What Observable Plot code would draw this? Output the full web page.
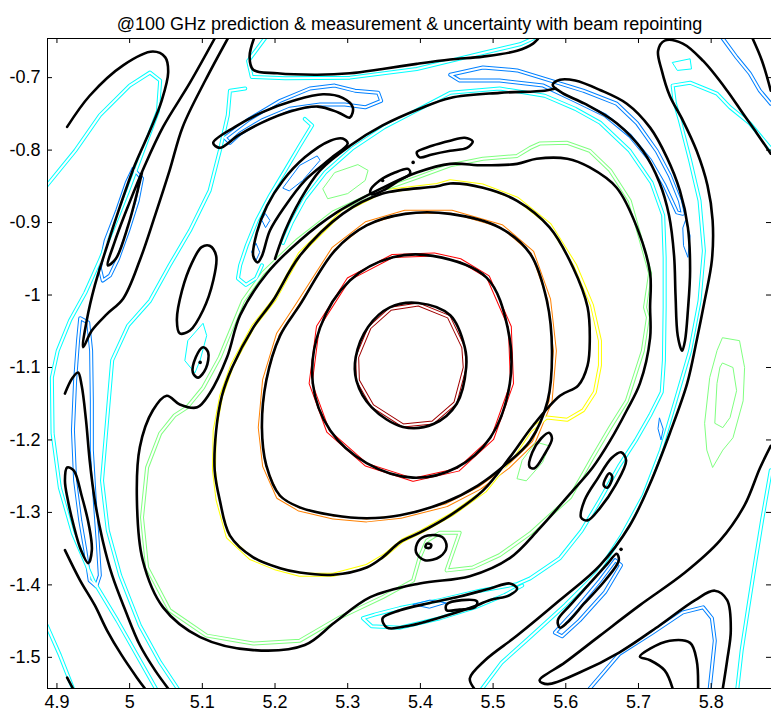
<!DOCTYPE html>
<html><head><meta charset="utf-8">
<script src="https://cdn.jsdelivr.net/npm/d3@7"></script>
<script src="https://cdn.jsdelivr.net/npm/@observablehq/plot@0.6"></script>
<style>body{margin:0;background:#fff;overflow:hidden}</style>
</head><body><div id="chart"></div>
<script>
const title = "@100 GHz prediction & measurement & uncertainty with beam repointing";
const xTicks = [4.9,5,5.1,5.2,5.3,5.4,5.5,5.6,5.7,5.8];
const yTicks = [-0.7,-0.8,-0.9,-1,-1.1,-1.2,-1.3,-1.4,-1.5];
const xDomain = [4.887,5.883];
const yDomain = [-1.543,-0.646];

// ---------- predicted (black) contours ----------
const K1 = [[5.397,-1.011],[5.441,-1.028],[5.461,-1.072],[5.463,-1.100],[5.450,-1.150],[5.418,-1.178],[5.376,-1.182],[5.333,-1.155],[5.312,-1.118],[5.311,-1.086],[5.328,-1.044],[5.358,-1.017]];
const K2 = [[5.417,-0.946],[5.491,-0.976],[5.520,-1.045],[5.523,-1.122],[5.496,-1.197],[5.450,-1.238],[5.390,-1.252],[5.326,-1.232],[5.276,-1.187],[5.252,-1.122],[5.262,-1.045],[5.303,-0.980],[5.362,-0.948]];
const K3 = [[5.441,-0.888],[5.509,-0.907],[5.551,-0.943],[5.574,-1.008],[5.581,-1.077],[5.575,-1.146],[5.551,-1.201],[5.516,-1.235],[5.479,-1.263],[5.434,-1.286],[5.372,-1.304],[5.326,-1.308],[5.280,-1.304],[5.234,-1.293],[5.207,-1.277],[5.188,-1.235],[5.182,-1.183],[5.188,-1.118],[5.207,-1.056],[5.234,-1.014],[5.282,-0.939],[5.326,-0.904],[5.379,-0.888]];
const K4 = [[5.441,-0.846],[5.486,-0.852],[5.533,-0.870],[5.578,-0.907],[5.610,-0.962],[5.630,-1.017],[5.633,-1.063],[5.630,-1.097],[5.617,-1.125],[5.592,-1.139],[5.555,-1.180],[5.523,-1.224],[5.486,-1.270],[5.441,-1.304],[5.399,-1.328],[5.372,-1.341],[5.348,-1.362],[5.326,-1.376],[5.280,-1.386],[5.234,-1.383],[5.207,-1.377],[5.170,-1.362],[5.138,-1.332],[5.124,-1.283],[5.117,-1.242],[5.119,-1.187],[5.127,-1.139],[5.141,-1.100],[5.170,-1.045],[5.197,-1.008],[5.234,-0.946],[5.293,-0.888],[5.348,-0.860],[5.423,-0.850]];
const K5 = [[5.441,-0.819],[5.486,-0.821],[5.533,-0.819],[5.560,-0.812],[5.602,-0.812],[5.633,-0.824],[5.670,-0.852],[5.698,-0.907],[5.716,-0.970],[5.716,-1.017],[5.716,-1.059],[5.702,-1.122],[5.684,-1.159],[5.661,-1.201],[5.637,-1.238],[5.606,-1.274],[5.564,-1.322],[5.523,-1.363],[5.468,-1.388],[5.399,-1.398],[5.331,-1.417],[5.282,-1.452],[5.241,-1.483],[5.170,-1.490],[5.097,-1.472],[5.046,-1.431],[5.018,-1.366],[5.010,-1.283],[5.014,-1.210],[5.032,-1.159],[5.051,-1.139],[5.069,-1.151],[5.093,-1.155],[5.110,-1.136],[5.134,-1.086],[5.152,-1.028],[5.189,-0.970],[5.234,-0.925],[5.285,-0.886],[5.348,-0.852],[5.395,-0.831]];
const E1 = [[5.110,-0.932],[5.119,-0.946],[5.115,-0.980],[5.101,-1.021],[5.083,-1.049],[5.069,-1.053],[5.065,-1.035],[5.072,-0.994],[5.086,-0.955],[5.099,-0.934]];
const T3 = [[5.582,-0.710],[5.592,-0.703],[5.613,-0.704],[5.647,-0.717],[5.684,-0.736],[5.716,-0.769],[5.739,-0.810],[5.757,-0.856],[5.768,-0.907],[5.771,-0.966],[5.768,-1.021],[5.764,-1.063],[5.760,-1.077],[5.754,-1.056],[5.751,-1.001],[5.749,-0.946],[5.742,-0.890],[5.729,-0.845],[5.706,-0.801],[5.670,-0.763],[5.626,-0.736],[5.595,-0.721]];
const Lf = [[4.914,-1.238],[4.923,-1.242],[4.934,-1.277],[4.944,-1.318],[4.948,-1.352],[4.943,-1.370],[4.933,-1.352],[4.923,-1.318],[4.915,-1.283],[4.911,-1.256]];
const CA = [[5.115,-0.790],[5.145,-0.768],[5.182,-0.748],[5.225,-0.732],[5.266,-0.723],[5.293,-0.728],[5.307,-0.741],[5.303,-0.755],[5.287,-0.748],[5.259,-0.740],[5.223,-0.746],[5.182,-0.762],[5.149,-0.780],[5.124,-0.797]];
const TG = [[5.293,-0.784],[5.300,-0.791],[5.276,-0.812],[5.241,-0.842],[5.214,-0.877],[5.193,-0.911],[5.182,-0.946],[5.176,-0.955],[5.170,-0.946],[5.175,-0.914],[5.189,-0.877],[5.211,-0.842],[5.241,-0.810],[5.276,-0.787]];
const SL1 = [[5.395,-0.803],[5.416,-0.794],[5.441,-0.787],[5.461,-0.783],[5.472,-0.788],[5.464,-0.797],[5.441,-0.801],[5.416,-0.806],[5.399,-0.810]];
const SL2 = [[5.331,-0.856],[5.344,-0.842],[5.365,-0.831],[5.383,-0.826],[5.386,-0.832],[5.369,-0.843],[5.348,-0.856],[5.333,-0.861]];
const S1 = [[5.410,-1.332],[5.430,-1.334],[5.436,-1.347],[5.427,-1.361],[5.406,-1.366],[5.394,-1.355],[5.397,-1.340]];
const S1i = [[5.409,-1.343],[5.415,-1.345],[5.413,-1.349],[5.407,-1.348]];
const S2 = [[5.348,-1.446],[5.372,-1.435],[5.413,-1.425],[5.454,-1.416],[5.496,-1.405],[5.523,-1.398],[5.533,-1.405],[5.523,-1.414],[5.496,-1.421],[5.468,-1.432],[5.427,-1.445],[5.386,-1.456],[5.354,-1.459]];
const S2i = [[5.436,-1.427],[5.457,-1.421],[5.478,-1.423],[5.475,-1.431],[5.454,-1.434],[5.436,-1.435]];
const S3 = [[5.676,-1.217],[5.683,-1.228],[5.668,-1.263],[5.647,-1.294],[5.630,-1.311],[5.621,-1.307],[5.626,-1.283],[5.644,-1.253],[5.663,-1.225]];
const S3i = [[5.660,-1.246],[5.664,-1.251],[5.657,-1.266],[5.652,-1.262]];
const S4 = [[5.577,-1.190],[5.581,-1.198],[5.570,-1.221],[5.557,-1.239],[5.550,-1.237],[5.554,-1.217],[5.566,-1.198]];
const S5 = [[5.670,-1.357],[5.673,-1.366],[5.654,-1.394],[5.626,-1.425],[5.602,-1.452],[5.592,-1.459],[5.589,-1.449],[5.606,-1.428],[5.633,-1.398],[5.658,-1.370]];
const SK = [[5.101,-1.072],[5.108,-1.079],[5.105,-1.101],[5.094,-1.114],[5.087,-1.107],[5.091,-1.086]];
// open predicted contours
const T1 = [[5.171,-0.646],[5.165,-0.671],[5.170,-0.689],[5.203,-0.694],[5.258,-0.696],[5.303,-0.694],[5.348,-0.688],[5.395,-0.681],[5.441,-0.675],[5.486,-0.671],[5.533,-0.663],[5.555,-0.653],[5.562,-0.646]];
const T4 = [[5.882,-0.805],[5.863,-0.777],[5.844,-0.750],[5.822,-0.718],[5.789,-0.677],[5.761,-0.653],[5.736,-0.649],[5.727,-0.663],[5.732,-0.690],[5.743,-0.725],[5.761,-0.759],[5.780,-0.801],[5.795,-0.849],[5.802,-0.897],[5.801,-0.952],[5.791,-1.008],[5.780,-1.063],[5.767,-1.122],[5.743,-1.191],[5.716,-1.260],[5.688,-1.318],[5.647,-1.373],[5.592,-1.421],[5.533,-1.470],[5.489,-1.504],[5.468,-1.529],[5.474,-1.543]];
const TR = [[5.857,-0.646],[5.870,-0.677],[5.882,-0.718]];
const K6 = [[4.911,-1.136],[4.921,-1.115],[4.929,-1.107],[4.934,-1.125],[4.940,-1.173],[4.945,-1.228],[4.952,-1.283],[4.963,-1.339],[4.976,-1.387],[4.994,-1.435],[5.014,-1.483],[5.035,-1.518],[5.053,-1.543]];
const Lg = [[4.911,-1.352],[4.932,-1.394],[4.952,-1.428],[4.969,-1.463],[4.989,-1.497],[5.010,-1.528],[5.021,-1.543]];
const LC = [[4.914,-1.528],[4.922,-1.543]];
const L1 = [[4.914,-0.768],[4.945,-0.725],[4.991,-0.683],[5.032,-0.664],[5.049,-0.672],[5.053,-0.693],[5.044,-0.732],[5.028,-0.773],[5.007,-0.821],[4.987,-0.877],[4.969,-0.932],[4.952,-0.987],[4.941,-1.035],[4.936,-1.072],[4.948,-1.049],[4.969,-1.026],[4.991,-1.005],[5.014,-0.952],[5.035,-0.890],[5.055,-0.828],[5.073,-0.768],[5.104,-0.704],[5.135,-0.646]];
const D1 = [[5.117,-0.646],[5.083,-0.707],[5.046,-0.768],[5.021,-0.821],[4.998,-0.877],[4.980,-0.925],[4.970,-0.959],[4.981,-0.950],[4.998,-0.904],[5.011,-0.856],[5.017,-0.831]];
const K7 = [[5.200,-0.950],[5.214,-0.911],[5.234,-0.870],[5.262,-0.828],[5.303,-0.794],[5.348,-0.766],[5.399,-0.743],[5.441,-0.728],[5.509,-0.721],[5.571,-0.718],[5.586,-0.715]];
const BR1 = [[5.882,-1.208],[5.867,-1.239],[5.846,-1.290],[5.812,-1.339],[5.764,-1.383],[5.702,-1.428],[5.647,-1.470],[5.599,-1.507],[5.564,-1.532],[5.575,-1.537],[5.619,-1.521],[5.674,-1.493],[5.729,-1.456],[5.778,-1.421],[5.805,-1.408],[5.822,-1.421],[5.827,-1.463],[5.822,-1.504],[5.816,-1.543]];
const BR2 = [[5.747,-1.543],[5.736,-1.518],[5.716,-1.504],[5.702,-1.499],[5.716,-1.488],[5.743,-1.477],[5.771,-1.480],[5.780,-1.504],[5.782,-1.543]];
const predDots = [[5.348,-0.842],[5.390,-0.817],[5.676,-1.351],[5.097,-1.093]];

// ---------- measured (coloured) contours ----------
const M1 = [[5.397,-1.013],[5.439,-1.030],[5.459,-1.072],[5.461,-1.100],[5.448,-1.149],[5.417,-1.176],[5.376,-1.180],[5.334,-1.153],[5.314,-1.118],[5.313,-1.086],[5.330,-1.045],[5.359,-1.019]];
const M2 = [[5.419,-0.944],[5.455,-0.952],[5.493,-0.975],[5.523,-1.044],[5.526,-1.122],[5.499,-1.198],[5.452,-1.241],[5.390,-1.255],[5.325,-1.234],[5.273,-1.188],[5.249,-1.122],[5.259,-1.044],[5.301,-0.978],[5.362,-0.946]];
const M3 = [[5.443,-0.885],[5.512,-0.905],[5.554,-0.941],[5.577,-1.006],[5.585,-1.077],[5.579,-1.147],[5.556,-1.203],[5.520,-1.238],[5.482,-1.266],[5.436,-1.290],[5.373,-1.306],[5.326,-1.311],[5.280,-1.307],[5.233,-1.296],[5.204,-1.279],[5.185,-1.236],[5.179,-1.183],[5.185,-1.117],[5.204,-1.054],[5.232,-1.011],[5.280,-0.936],[5.325,-0.901],[5.379,-0.885]];
const M4 = [[5.441,-0.843],[5.486,-0.849],[5.533,-0.867],[5.578,-0.903],[5.613,-0.959],[5.636,-1.014],[5.647,-1.063],[5.647,-1.097],[5.640,-1.134],[5.624,-1.159],[5.602,-1.172],[5.574,-1.169],[5.551,-1.187],[5.526,-1.224],[5.489,-1.270],[5.443,-1.303],[5.402,-1.326],[5.375,-1.339],[5.351,-1.359],[5.326,-1.374],[5.280,-1.386],[5.234,-1.386],[5.200,-1.377],[5.166,-1.363],[5.135,-1.334],[5.121,-1.283],[5.116,-1.242],[5.117,-1.187],[5.126,-1.139],[5.141,-1.097],[5.170,-1.043],[5.200,-1.005],[5.234,-0.943],[5.293,-0.885],[5.348,-0.857],[5.423,-0.848]];
const M5 = [[5.441,-0.821],[5.486,-0.812],[5.533,-0.808],[5.551,-0.797],[5.564,-0.791],[5.602,-0.790],[5.633,-0.801],[5.661,-0.828],[5.688,-0.870],[5.706,-0.934],[5.716,-0.970],[5.709,-1.017],[5.713,-1.031],[5.706,-1.077],[5.684,-1.146],[5.661,-1.183],[5.637,-1.224],[5.606,-1.279],[5.551,-1.329],[5.509,-1.359],[5.472,-1.376],[5.436,-1.380],[5.454,-1.328],[5.427,-1.328],[5.409,-1.339],[5.399,-1.362],[5.390,-1.394],[5.348,-1.417],[5.289,-1.445],[5.234,-1.477],[5.170,-1.481],[5.106,-1.470],[5.055,-1.435],[5.024,-1.376],[5.017,-1.307],[5.024,-1.238],[5.042,-1.191],[5.062,-1.166],[5.079,-1.155],[5.101,-1.128],[5.124,-1.086],[5.156,-1.008],[5.183,-0.970],[5.230,-0.925],[5.280,-0.886],[5.344,-0.856],[5.395,-0.838]];
const B1 = [[5.441,-0.696],[5.486,-0.686],[5.533,-0.690],[5.569,-0.701],[5.624,-0.718],[5.670,-0.736],[5.698,-0.763],[5.725,-0.801],[5.743,-0.835],[5.757,-0.870],[5.761,-0.888],[5.753,-0.886],[5.736,-0.849],[5.716,-0.814],[5.688,-0.780],[5.654,-0.752],[5.613,-0.732],[5.569,-0.711],[5.509,-0.704],[5.454,-0.704]];
const B3 = [[5.005,-0.826],[5.017,-0.839],[5.011,-0.870],[4.998,-0.911],[4.984,-0.950],[4.973,-0.973],[4.963,-0.980],[4.959,-0.963],[4.967,-0.925],[4.983,-0.883],[4.996,-0.845]];
const B4 = [[5.131,-0.783],[5.165,-0.757],[5.207,-0.732],[5.248,-0.715],[5.282,-0.711],[5.310,-0.718],[5.342,-0.721],[5.346,-0.732],[5.324,-0.741],[5.296,-0.737],[5.262,-0.737],[5.220,-0.743],[5.182,-0.759],[5.152,-0.777],[5.138,-0.790]];
const B5 = [[4.932,-1.032],[4.943,-1.038],[4.947,-1.077],[4.948,-1.146],[4.948,-1.214],[4.952,-1.283],[4.956,-1.339],[4.959,-1.387],[4.954,-1.402],[4.945,-1.394],[4.939,-1.352],[4.932,-1.311],[4.925,-1.256],[4.922,-1.187],[4.925,-1.118],[4.929,-1.063]];
const B6 = [[5.585,-1.466],[5.613,-1.435],[5.647,-1.394],[5.668,-1.366],[5.676,-1.373],[5.654,-1.410],[5.619,-1.449],[5.595,-1.471]];
// open measured contours
const C1 = [[5.186,-0.646],[5.163,-0.677],[5.168,-0.699],[5.214,-0.701],[5.303,-0.700],[5.395,-0.688],[5.486,-0.666],[5.537,-0.654],[5.555,-0.646]];
const CArch = [[4.886,-0.849],[4.925,-0.801],[4.959,-0.752],[5.000,-0.711],[5.028,-0.693],[5.042,-0.704],[5.039,-0.746],[5.021,-0.794],[4.998,-0.856],[4.976,-0.911],[4.959,-0.952],[4.939,-0.997],[4.918,-1.035],[4.901,-1.077],[4.893,-1.114],[4.894,-1.191],[4.904,-1.266],[4.922,-1.329],[4.950,-1.394],[4.983,-1.449],[5.014,-1.504],[5.036,-1.543]];
const B2 = [[5.816,-0.646],[5.835,-0.672],[5.853,-0.694],[5.867,-0.718],[5.882,-0.736]];
const C2 = [[5.211,-0.928],[5.223,-0.900],[5.241,-0.867],[5.269,-0.831],[5.306,-0.798],[5.351,-0.768],[5.399,-0.743],[5.441,-0.721],[5.509,-0.715],[5.571,-0.725],[5.613,-0.743],[5.647,-0.762],[5.688,-0.801],[5.718,-0.845],[5.734,-0.890],[5.736,-0.948],[5.736,-1.017],[5.735,-1.090],[5.732,-1.134],[5.716,-1.166],[5.696,-1.201],[5.674,-1.235],[5.647,-1.283],[5.622,-1.325],[5.592,-1.363],[5.551,-1.391],[5.533,-1.399],[5.482,-1.408],[5.427,-1.421],[5.372,-1.432],[5.337,-1.441],[5.321,-1.446],[5.333,-1.457],[5.372,-1.459],[5.427,-1.446],[5.475,-1.431],[5.516,-1.414],[5.540,-1.401]];
const C3 = [[5.241,-0.757],[5.251,-0.766],[5.234,-0.794],[5.214,-0.828],[5.193,-0.863],[5.175,-0.897],[5.161,-0.932],[5.152,-0.959],[5.149,-0.977],[5.160,-0.986],[5.174,-0.977],[5.182,-0.959]];
const C4 = [[5.159,-0.715],[5.138,-0.718],[5.135,-0.752],[5.124,-0.801],[5.110,-0.856],[5.083,-0.911],[5.055,-0.959],[5.028,-1.008],[4.998,-1.042],[4.976,-1.090],[4.969,-1.173],[4.962,-1.256],[4.970,-1.325],[4.987,-1.387],[5.014,-1.456],[5.042,-1.507],[5.066,-1.543]];
const CR = [[5.882,-1.242],[5.870,-1.311],[5.860,-1.373],[5.851,-1.431],[5.842,-1.490],[5.836,-1.543]];
const CT4 = [[5.882,-0.798],[5.853,-0.763],[5.826,-0.741],[5.808,-0.722],[5.771,-0.707],[5.747,-0.711],[5.750,-0.735],[5.757,-0.759],[5.771,-0.814],[5.784,-0.870],[5.790,-0.939],[5.784,-1.008],[5.771,-1.077],[5.751,-1.146],[5.731,-1.214],[5.707,-1.277],[5.677,-1.332],[5.644,-1.383],[5.599,-1.428],[5.551,-1.472],[5.512,-1.507],[5.485,-1.543]];
const CLB = [[4.886,-1.456],[4.904,-1.497],[4.922,-1.543]];
const BU = [[5.633,-1.543],[5.674,-1.495],[5.718,-1.467],[5.761,-1.438],[5.789,-1.431],[5.801,-1.446],[5.805,-1.477],[5.801,-1.515],[5.798,-1.543]];
// small single measured loops
const GR1 = [[5.816,-1.059],[5.839,-1.063],[5.846,-1.100],[5.844,-1.146],[5.830,-1.197],[5.816,-1.214],[5.802,-1.238],[5.794,-1.214],[5.791,-1.177],[5.798,-1.114],[5.808,-1.077]];
const GR2 = [[5.816,-1.094],[5.830,-1.100],[5.835,-1.132],[5.826,-1.169],[5.816,-1.183],[5.805,-1.177],[5.808,-1.122],[5.812,-1.100]];
const GS1 = [[5.266,-0.853],[5.282,-0.831],[5.314,-0.820],[5.328,-0.828],[5.324,-0.842],[5.300,-0.860],[5.273,-0.867]];
const GS2 = [[5.533,-1.253],[5.540,-1.228],[5.559,-1.203],[5.577,-1.208],[5.568,-1.231],[5.546,-1.256]];
const BT = [[5.211,-0.852],[5.234,-0.821],[5.258,-0.808],[5.262,-0.814],[5.238,-0.842],[5.220,-0.856]];
const BD1 = [[5.187,-0.888],[5.193,-0.897],[5.187,-0.907],[5.182,-0.897]];
const BD2 = [[5.174,-0.929],[5.179,-0.941],[5.174,-0.952],[5.168,-0.941]];
const BD3 = [[5.390,-1.427],[5.413,-1.421],[5.436,-1.425],[5.413,-1.432]];
const BS1 = [[5.765,-0.897],[5.771,-0.918],[5.768,-0.948],[5.762,-0.932],[5.761,-0.908]];
const BS2 = [[5.729,-1.170],[5.734,-1.185],[5.731,-1.200],[5.727,-1.185]];
const CTS = [[5.747,-0.679],[5.771,-0.674],[5.773,-0.688],[5.754,-0.690]];
const CK = [[5.076,-1.090],[5.080,-1.063],[5.101,-1.039],[5.106,-1.056],[5.097,-1.090],[5.090,-1.107]];

const jet = {dred:"#a00000", red:"#ff0000", orange:"#ff8000", yellow:"#ffff00", green:"#80ff80", cyan:"#00ffff", blue:"#0080ff"};
const rows = (list) => list.flatMap(([id, pts, color]) => pts.map(([x, y]) => ({id, x, y, color})));

const predClosed = rows([["K1",K1],["K2",K2],["K3",K3],["K4",K4],["K5",K5],["E1",E1],["T3",T3],["Lf",Lf],["CA",CA],["TG",TG],["SL1",SL1],["SL2",SL2],["S1",S1],["S1i",S1i],["S2",S2],["S2i",S2i],["S3",S3],["S3i",S3i],["S4",S4],["S5",S5],["SK",SK]]);
const predOpen = rows([["T1",T1],["T4",T4],["TR",TR],["K6",K6],["Lg",Lg],["LC",LC],["L1",L1],["D1",D1],["K7",K7],["BR1",BR1],["BR2",BR2]]);
const measClosedPair = rows([["M1",M1,jet.dred],["M2",M2,jet.red],["M3",M3,jet.orange],["M4",M4,jet.yellow],["M5",M5,jet.green],["B1",B1,jet.blue],["B3",B3,jet.blue],["B4",B4,jet.blue],["B5",B5,jet.blue],["B6",B6,jet.blue]]);
const measOpenPair = rows([["C1",C1,jet.cyan],["CArch",CArch,jet.cyan],["B2",B2,jet.blue],["C2",C2,jet.cyan],["C3",C3,jet.cyan],["C4",C4,jet.cyan],["CR",CR,jet.cyan],["CT4",CT4,jet.cyan],["CLB",CLB,jet.cyan],["BU",BU,jet.blue]]);
const measClosedSingle = rows([["GR1",GR1,jet.green],["GR2",GR2,jet.green],["GS1",GS1,jet.green],["GS2",GS2,jet.green],["BT",BT,jet.blue],["BD1",BD1,jet.blue],["BD2",BD2,jet.blue],["BD3",BD3,jet.blue],["BS1",BS1,jet.blue],["BS2",BS2,jet.blue],["CTS",CTS,jet.cyan],["CK",CK,jet.cyan]]);

const W = 771, H = 715, mL = 47, mR = 0, mT = 38, mB = 27;
const pw = W - mL - mR, ph = H - mT - mB;
const font = "Liberation Sans, Arial, Helvetica, sans-serif";
const pairW = 4, coreW = 2, blackW = 2.6;
const fmt = d => String(d);

const chart = Plot.plot({
  width: W, height: H,
  marginLeft: mL, marginRight: mR, marginTop: mT, marginBottom: mB,
  style: {fontFamily: font, fontSize: "18px", background: "white", color: "black"},
  x: {domain: xDomain, label: null},
  y: {domain: yDomain, label: null},
  color: {type: "identity"},
  marks: [
    Plot.line(measClosedPair, {x: "x", y: "y", z: "id", stroke: "color", strokeWidth: pairW, curve: "linear-closed", clip: true}),
    Plot.line(measOpenPair, {x: "x", y: "y", z: "id", stroke: "color", strokeWidth: pairW, curve: "linear", clip: true}),
    Plot.line(measClosedPair, {x: "x", y: "y", z: "id", stroke: "white", strokeWidth: coreW, curve: "linear-closed", clip: true}),
    Plot.line(measOpenPair, {x: "x", y: "y", z: "id", stroke: "white", strokeWidth: coreW, curve: "linear", clip: true}),
    Plot.line(measClosedSingle, {x: "x", y: "y", z: "id", stroke: "color", strokeWidth: 1, curve: "linear-closed", clip: true}),
    Plot.line(predClosed, {x: "x", y: "y", z: "id", stroke: "black", strokeWidth: blackW, curve: "catmull-rom-closed", clip: true}),
    Plot.line(predOpen, {x: "x", y: "y", z: "id", stroke: "black", strokeWidth: blackW, curve: "catmull-rom", clip: true}),
    Plot.dot(predDots, {x: d => d[0], y: d => d[1], r: 1.8, fill: "black", stroke: null}),
    Plot.ruleX([xDomain[0]], {stroke: "black", strokeWidth: 1}),
    Plot.ruleY([yDomain[0]], {stroke: "black", strokeWidth: 1}),
    Plot.ruleY([yDomain[1]], {stroke: "black", strokeWidth: 1}),
    Plot.tickX(xTicks, {x: d => d, insetTop: ph - 5, stroke: "black"}),
    Plot.tickX(xTicks, {x: d => d, insetBottom: ph - 5, stroke: "black"}),
    Plot.tickY(yTicks, {y: d => d, insetRight: pw - 5, stroke: "black"}),
    Plot.tickY(yTicks, {y: d => d, insetLeft: pw - 5, stroke: "black"}),
    Plot.axisX(xTicks, {anchor: "bottom", tickSize: 0, tickPadding: 7, fontSize: 18, tickFormat: fmt, label: null}),
    Plot.axisY(yTicks, {anchor: "left", tickSize: 0, tickPadding: 7, fontSize: 18, tickFormat: fmt, label: null}),
    Plot.text([title], {frameAnchor: "top", dy: -21, fontSize: 18, text: d => d, fill: "black"})
  ]
});
document.getElementById("chart").appendChild(chart);
</script>
</body></html>
